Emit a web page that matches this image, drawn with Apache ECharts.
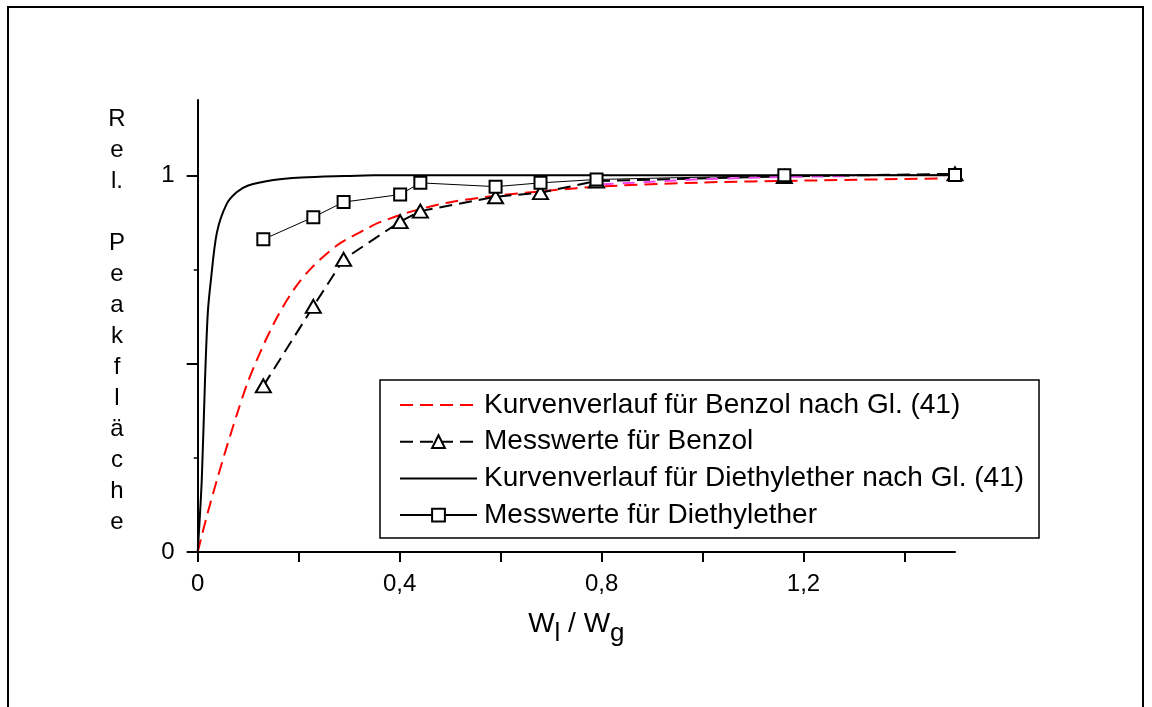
<!DOCTYPE html>
<html>
<head>
<meta charset="utf-8">
<script src="https://cdn.jsdelivr.net/npm/echarts@6/dist/echarts.min.js"></script>
<style>
  html, body { margin: 0; padding: 0; background: #fff; }
  #chart { width: 1152px; height: 707px; }
</style>
</head>
<body>
<div id="chart"></div>
<script>
// Theoretical curve for benzene (Gl. 41)
const benzolCurveX = [0, 0.02, 0.04, 0.06, 0.08, 0.099, 0.127, 0.158, 0.192, 0.226, 0.277, 0.337, 0.36, 0.426, 0.505, 0.598, 0.677, 0.75, 0.82, 1.0, 1.2, 1.48];
const benzolCurveY = [0, 0.105, 0.2, 0.29, 0.375, 0.45, 0.54, 0.625, 0.70, 0.755, 0.815, 0.86, 0.875, 0.905, 0.93, 0.947, 0.957, 0.966, 0.972, 0.981, 0.986, 0.992];

// Theoretical curve for diethyl ether (Gl. 41)
const etherCurveX = [0, 0.008, 0.0145, 0.02, 0.026, 0.038, 0.057, 0.077, 0.1, 0.147, 0.206, 0.29, 0.35, 1.5];
const etherCurveY = [0, 0.19, 0.457, 0.635, 0.72, 0.848, 0.923, 0.955, 0.973, 0.987, 0.994, 0.998, 1.0, 1.0];

// Measured W_l / W_g ratios (shared by both substances)
const measuredX = [0.13, 0.229, 0.289, 0.401, 0.441, 0.59, 0.679, 0.79, 1.162, 1.5];
const benzolMeasured = [0.441, 0.652, 0.777, 0.877, 0.905, 0.943, 0.954, 0.985, 0.997, 1.004];
const etherMeasured = [0.83, 0.889, 0.929, 0.949, 0.98, 0.97, 0.98, 0.989, 1.0, 1.001];

// Auxiliary dashed trace near the plateau
const plateauX = [0.80, 1.0, 1.16, 1.3];
const plateauY = [0.976, 0.99, 0.996, 0.998];

// Axis ticks and labels
const xTickValues = [0, 0.2, 0.4, 0.6, 0.8, 1.0, 1.2, 1.4];
const xLabelValues = [0, 0.4, 0.8, 1.2];
const yTickValues = [0, 0.5, 1];
const yLabelValues = [0, 1];
const yMinorTickValues = [0.25, 0.75];

const seriesNames = [
  'Kurvenverlauf für Benzol nach Gl. (41)',
  'Messwerte für Benzol',
  'Kurvenverlauf für Diethylether nach Gl. (41)',
  'Messwerte für Diethylether'
];
// y title "Rel. Peakfläche", stacked one letter per line
const yTitleLines = ['R', 'e', 'l.', '', 'P', 'e', 'a', 'k', 'f', 'l', 'ä', 'c', 'h', 'e'];

const zip = (xs, ys) => xs.map((x, i) => [x, ys[i]]);
const fmt = v => String(v).replace('.', ',');
const FONT = 'Liberation Sans, Arial, sans-serif';

const chart = echarts.init(document.getElementById('chart'), null, { renderer: 'canvas' });

chart.setOption({
  animation: false,
  backgroundColor: '#fff',
  textStyle: { fontFamily: FONT, color: '#000' },
  graphic: [{
    type: 'rect',
    shape: { x: 8, y: 7, width: 1135, height: 720 },
    style: { fill: 'none', stroke: '#000', lineWidth: 2 },
    silent: true
  }, {
    type: 'text',
    x: 117, y: 104,
    style: {
      text: yTitleLines.join('\n'),
      fontFamily: FONT, fontSize: 24, lineHeight: 31,
      fill: '#000', align: 'center', verticalAlign: 'top'
    },
    silent: true
  }],
  grid: { left: 197.7, top: 100, width: 757.3, height: 452, containLabel: false },
  xAxis: {
    type: 'value',
    min: 0, max: 1.5,
    name: '{w|W}{s|l}{w| / W}{s|g}',
    nameLocation: 'middle',
    nameGap: 62,
    nameTextStyle: {
      fontFamily: FONT, fontSize: 28, color: '#000',
      rich: {
        w: { fontFamily: FONT, fontSize: 28, lineHeight: 30, padding: [0, 0, 10, 0], color: '#000' },
        s: { fontFamily: FONT, fontSize: 26, lineHeight: 30, padding: [10, 0, 0, 0], color: '#000' }
      }
    },
    axisLine: { show: true, onZero: false, lineStyle: { color: '#000', width: 2 } },
    axisTick: { show: true, length: 10, lineStyle: { color: '#000', width: 2 }, customValues: xTickValues },
    axisLabel: { fontFamily: FONT, fontSize: 24, color: '#000', margin: 20, customValues: xLabelValues, formatter: fmt },
    splitLine: { show: false }
  },
  yAxis: [{
    type: 'value',
    min: 0, max: 1.2,
    axisLine: { show: true, onZero: false, lineStyle: { color: '#000', width: 2 } },
    axisTick: { show: true, length: 11, lineStyle: { color: '#000', width: 2 }, customValues: yTickValues },
    axisLabel: { fontFamily: FONT, fontSize: 24, color: '#000', margin: 23, customValues: yLabelValues, formatter: fmt },
    splitLine: { show: false }
  }, {
    type: 'value',
    position: 'left',
    min: 0, max: 1.2,
    axisLine: { show: false },
    axisTick: { show: true, length: 4, lineStyle: { color: '#000', width: 1.5 }, customValues: yMinorTickValues },
    axisLabel: { show: false },
    splitLine: { show: false }
  }],
  legend: {
    orient: 'vertical',
    left: 380, top: 380,
    padding: [11, 15, 9, 19],
    itemWidth: 77,
    itemHeight: 16,
    itemGap: 8.7,
    borderColor: '#000',
    borderWidth: 1.5,
    backgroundColor: '#fff',
    textStyle: { fontFamily: FONT, fontSize: 28, color: '#000', lineHeight: 28, padding: [0, 0, 0, 2] },
    data: [
      { name: seriesNames[0], itemStyle: { opacity: 0 } },
      { name: seriesNames[1] },
      { name: seriesNames[2], itemStyle: { opacity: 0 } },
      { name: seriesNames[3] }
    ]
  },
  series: [
    {
      name: seriesNames[0],
      type: 'line',
      data: zip(benzolCurveX, benzolCurveY),
      smooth: 0.3,
      symbol: 'none',
      lineStyle: { color: '#ff0000', width: 2, type: [13, 7] },
      itemStyle: { color: '#ff0000' },
      z: 2
    },
    {
      type: 'line',
      data: zip(plateauX, plateauY),
      symbol: 'none',
      lineStyle: { color: '#ee44ee', width: 2, type: [12, 9] },
      z: 3
    },
    {
      name: seriesNames[1],
      type: 'line',
      data: zip(measuredX, benzolMeasured),
      symbol: 'triangle',
      symbolSize: [15, 13],
      lineStyle: { color: '#000', width: 2, type: [13, 7] },
      itemStyle: { color: '#fff', borderColor: '#000', borderWidth: 2 },
      z: 2
    },
    {
      name: seriesNames[2],
      type: 'line',
      data: zip(etherCurveX, etherCurveY),
      smooth: 0.3,
      symbol: 'none',
      lineStyle: { color: '#000', width: 2 },
      itemStyle: { color: '#000' },
      z: 4
    },
    {
      name: seriesNames[3],
      type: 'line',
      data: zip(measuredX, etherMeasured),
      symbol: 'rect',
      symbolSize: 12,
      lineStyle: { color: '#000', width: 1 },
      itemStyle: { color: '#fff', borderColor: '#000', borderWidth: 2 },
      z: 5
    }
  ]
});
</script>
</body>
</html>
